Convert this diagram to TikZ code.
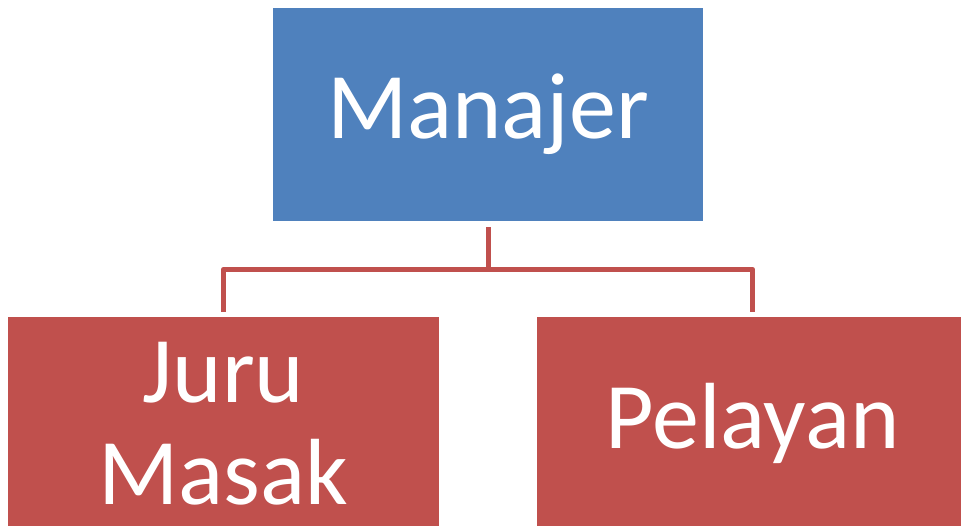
\documentclass[tikz,border=0pt]{standalone}
\usepackage{fontspec}
\setmainfont{Carlito}
\definecolor{boxBlue}{HTML}{4F81BD}
\definecolor{boxRed}{HTML}{C0504D}
\tikzset{
  orgbox/.style={rectangle,minimum width=430pt,minimum height=213pt,inner sep=0pt,
    text=white,align=center,font=\fontsize{94}{102}\selectfont},
  conn/.style={draw=boxRed,line width=5pt,line join=round,shorten <=6pt,shorten >=5pt}
}

\begin{document}
\begin{tikzpicture}[x=1pt,y=1pt]
\useasboundingbox (0,0) rectangle (961,526);
\clip (0,0) rectangle (961,526);
\node[orgbox,fill=boxBlue] (manajer) at (488,411.5) {Manajer};
\node[orgbox,fill=boxRed,minimum width=431pt] (juru) at (223.5,102.5) {Juru\\Masak};
\node[orgbox,fill=boxRed,minimum width=431pt] (pelayan) at (752.5,102.5) {Pelayan};
\coordinate (split) at ([yshift=-48pt]manajer.south);
\draw[conn] (manajer.south) -- (split) -| (juru.north);
\draw[conn] (manajer.south) -- (split) -| (pelayan.north);
\end{tikzpicture}
\end{document}
